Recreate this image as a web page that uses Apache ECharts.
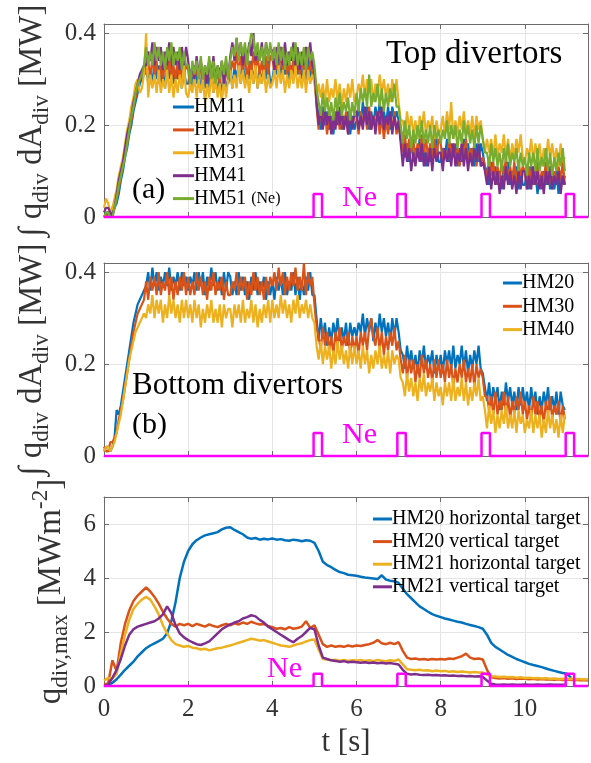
<!DOCTYPE html>
<html>
<head>
<meta charset="utf-8">
<script src="https://cdn.jsdelivr.net/npm/echarts@6/dist/echarts.min.js"></script>
<style>
  html, body { margin: 0; padding: 0; background: #fff; }
  #chart { width: 591px; height: 763px; }
</style>
</head>
<body>
<div id="chart"></div>
<script>
// sample times [s] for the integrated power traces (a) and (b), 0.05 s step
const timeFine = [
  0.00,0.05,0.10,0.15,0.20,0.25,0.30,0.35,0.40,0.45,0.50,0.55,0.60,0.65,0.70,0.75,0.80,0.85,0.90,0.95,
  1.00,1.05,1.10,1.15,1.20,1.25,1.30,1.35,1.40,1.45,1.50,1.55,1.60,1.65,1.70,1.75,1.80,1.85,1.90,1.95,
  2.00,2.05,2.10,2.15,2.20,2.25,2.30,2.35,2.40,2.45,2.50,2.55,2.60,2.65,2.70,2.75,2.80,2.85,2.90,2.95,
  3.00,3.05,3.10,3.15,3.20,3.25,3.30,3.35,3.40,3.45,3.50,3.55,3.60,3.65,3.70,3.75,3.80,3.85,3.90,3.95,
  4.00,4.05,4.10,4.15,4.20,4.25,4.30,4.35,4.40,4.45,4.50,4.55,4.60,4.65,4.70,4.75,4.80,4.85,4.90,4.95,
  5.00,5.05,5.10,5.15,5.20,5.25,5.30,5.35,5.40,5.45,5.50,5.55,5.60,5.65,5.70,5.75,5.80,5.85,5.90,5.95,
  6.00,6.05,6.10,6.15,6.20,6.25,6.30,6.35,6.40,6.45,6.50,6.55,6.60,6.65,6.70,6.75,6.80,6.85,6.90,6.95,
  7.00,7.05,7.10,7.15,7.20,7.25,7.30,7.35,7.40,7.45,7.50,7.55,7.60,7.65,7.70,7.75,7.80,7.85,7.90,7.95,
  8.00,8.05,8.10,8.15,8.20,8.25,8.30,8.35,8.40,8.45,8.50,8.55,8.60,8.65,8.70,8.75,8.80,8.85,8.90,8.95,
  9.00,9.05,9.10,9.15,9.20,9.25,9.30,9.35,9.40,9.45,9.50,9.55,9.60,9.65,9.70,9.75,9.80,9.85,9.90,9.95,
  10.00,10.05,10.10,10.15,10.20,10.25,10.30,10.35,10.40,10.45,10.50,10.55,10.60,10.65,10.70,10.75,10.80,10.85,10.90,10.95
];
// sample times [s] for the peak heat flux traces (c), 0.1 s step
const time = [
  0.0,0.1,0.2,0.3,0.4,0.5,0.6,0.7,0.8,0.9,
  1.0,1.1,1.2,1.3,1.4,1.5,1.6,1.7,1.8,1.9,
  2.0,2.1,2.2,2.3,2.4,2.5,2.6,2.7,2.8,2.9,
  3.0,3.1,3.2,3.3,3.4,3.5,3.6,3.7,3.8,3.9,
  4.0,4.1,4.2,4.3,4.4,4.5,4.6,4.7,4.8,4.9,
  5.0,5.1,5.2,5.3,5.4,5.5,5.6,5.7,5.8,5.9,
  6.0,6.1,6.2,6.3,6.4,6.5,6.6,6.7,6.8,6.9,
  7.0,7.1,7.2,7.3,7.4,7.5,7.6,7.7,7.8,7.9,
  8.0,8.1,8.2,8.3,8.4,8.5,8.6,8.7,8.8,8.9,
  9.0,9.1,9.2,9.3,9.4,9.5,9.6,9.7,9.8,9.9,
  10.0,10.1,10.2,10.3,10.4,10.5,10.6,10.7,10.8,10.9,
  11.0,11.1,11.2,11.3,11.4,11.5
];

// (a) top divertors, integrated power [MW]
const hm11 = [
  0.00,0.01,0.01,0.00,0.01,0.02,0.03,0.05,0.08,0.10,0.13,0.15,0.18,0.20,0.23,0.25,0.27,0.29,0.30,0.31,
  0.33,0.29,0.32,0.29,0.34,0.30,0.33,0.29,0.32,0.28,0.33,0.30,0.34,0.29,0.32,0.30,0.33,0.28,0.32,0.29,
  0.29,0.32,0.28,0.33,0.29,0.32,0.27,0.31,0.28,0.32,0.28,0.32,0.27,0.30,0.27,0.31,0.26,0.31,0.28,0.30,
  0.32,0.28,0.33,0.30,0.33,0.29,0.34,0.29,0.32,0.30,0.34,0.29,0.33,0.28,0.32,0.29,0.33,0.30,0.34,0.29,
  0.30,0.33,0.31,0.35,0.30,0.34,0.31,0.34,0.29,0.33,0.30,0.35,0.31,0.34,0.30,0.33,0.29,0.34,0.30,0.34,
  0.31,0.25,0.22,0.19,0.24,0.20,0.23,0.19,0.22,0.18,0.23,0.20,0.24,0.19,0.22,0.20,0.23,0.18,0.22,0.19,
  0.21,0.24,0.20,0.25,0.21,0.24,0.19,0.23,0.20,0.24,0.21,0.25,0.20,0.23,0.20,0.24,0.19,0.24,0.21,0.23,
  0.21,0.17,0.16,0.13,0.16,0.12,0.17,0.12,0.15,0.13,0.17,0.12,0.16,0.11,0.15,0.12,0.16,0.13,0.17,0.12,
  0.12,0.15,0.13,0.17,0.12,0.16,0.13,0.16,0.11,0.15,0.12,0.17,0.13,0.16,0.12,0.15,0.11,0.16,0.12,0.16,
  0.14,0.11,0.10,0.07,0.12,0.08,0.11,0.07,0.10,0.06,0.11,0.08,0.12,0.07,0.10,0.08,0.11,0.06,0.10,0.07,
  0.07,0.10,0.06,0.11,0.07,0.10,0.05,0.09,0.06,0.10,0.07,0.11,0.06,0.09,0.06,0.10,0.05,0.10,0.07,0.09
];
const hm21 = [
  0.00,0.00,0.01,0.01,0.02,0.03,0.04,0.06,0.09,0.11,0.14,0.16,0.19,0.21,0.24,0.26,0.28,0.30,0.31,0.32,
  0.31,0.34,0.30,0.35,0.31,0.34,0.29,0.33,0.30,0.34,0.31,0.35,0.30,0.33,0.30,0.34,0.29,0.34,0.31,0.33,
  0.32,0.28,0.33,0.30,0.33,0.29,0.34,0.29,0.32,0.30,0.34,0.29,0.33,0.28,0.32,0.29,0.33,0.30,0.34,0.29,
  0.31,0.34,0.32,0.36,0.31,0.35,0.32,0.35,0.30,0.34,0.31,0.36,0.32,0.35,0.31,0.34,0.30,0.35,0.31,0.35,
  0.35,0.31,0.34,0.31,0.36,0.32,0.35,0.31,0.34,0.30,0.35,0.32,0.36,0.31,0.34,0.32,0.35,0.30,0.34,0.31,
  0.31,0.24,0.19,0.24,0.20,0.23,0.18,0.22,0.19,0.23,0.20,0.24,0.19,0.22,0.19,0.23,0.18,0.23,0.20,0.22,
  0.22,0.18,0.23,0.20,0.23,0.19,0.24,0.19,0.22,0.20,0.23,0.18,0.22,0.17,0.21,0.18,0.22,0.19,0.23,0.18,
  0.20,0.17,0.14,0.18,0.13,0.17,0.14,0.17,0.12,0.16,0.13,0.18,0.14,0.17,0.13,0.16,0.12,0.17,0.13,0.17,
  0.16,0.12,0.15,0.12,0.17,0.13,0.16,0.12,0.15,0.11,0.16,0.13,0.17,0.12,0.15,0.13,0.16,0.11,0.15,0.12,
  0.13,0.11,0.08,0.13,0.09,0.12,0.07,0.11,0.08,0.12,0.09,0.13,0.08,0.11,0.08,0.12,0.07,0.12,0.09,0.11,
  0.10,0.06,0.11,0.08,0.11,0.07,0.12,0.07,0.10,0.08,0.12,0.07,0.11,0.06,0.10,0.07,0.11,0.08,0.12,0.07
];
const hm31 = [
  0.02,0.04,0.03,0.01,0.02,0.04,0.06,0.09,0.11,0.13,0.16,0.19,0.21,0.24,0.26,0.29,0.30,0.27,0.28,0.31,
  0.40,0.26,0.31,0.28,0.31,0.27,0.32,0.27,0.30,0.28,0.32,0.27,0.31,0.26,0.30,0.27,0.31,0.28,0.33,0.27,
  0.26,0.29,0.27,0.31,0.26,0.30,0.27,0.30,0.25,0.29,0.26,0.31,0.27,0.30,0.26,0.29,0.25,0.30,0.26,0.30,
  0.32,0.28,0.31,0.28,0.33,0.29,0.32,0.28,0.31,0.27,0.32,0.29,0.33,0.28,0.31,0.29,0.32,0.27,0.31,0.28,
  0.29,0.32,0.28,0.33,0.29,0.32,0.27,0.31,0.28,0.32,0.29,0.33,0.28,0.31,0.28,0.32,0.27,0.32,0.29,0.31,
  0.29,0.26,0.29,0.26,0.29,0.25,0.30,0.25,0.28,0.26,0.30,0.25,0.29,0.24,0.28,0.25,0.29,0.26,0.30,0.25,
  0.26,0.29,0.27,0.31,0.26,0.30,0.27,0.30,0.25,0.29,0.26,0.31,0.27,0.30,0.26,0.29,0.25,0.30,0.26,0.30,
  0.25,0.21,0.21,0.18,0.23,0.19,0.22,0.18,0.21,0.17,0.22,0.19,0.23,0.18,0.21,0.19,0.22,0.17,0.21,0.18,
  0.19,0.22,0.18,0.23,0.19,0.25,0.17,0.21,0.18,0.22,0.19,0.23,0.18,0.21,0.18,0.22,0.17,0.22,0.19,0.21,
  0.17,0.14,0.17,0.14,0.17,0.13,0.18,0.13,0.16,0.14,0.18,0.13,0.17,0.12,0.16,0.13,0.17,0.14,0.18,0.13,
  0.12,0.15,0.13,0.17,0.12,0.16,0.13,0.16,0.11,0.15,0.12,0.17,0.13,0.16,0.12,0.15,0.11,0.16,0.12,0.13
];
const hm41 = [
  0.01,0.02,0.02,0.01,0.00,0.02,0.05,0.08,0.10,0.12,0.15,0.18,0.20,0.22,0.25,0.27,0.29,0.31,0.32,0.33,
  0.33,0.36,0.34,0.38,0.33,0.37,0.34,0.37,0.32,0.36,0.33,0.38,0.34,0.37,0.33,0.36,0.32,0.37,0.33,0.37,
  0.34,0.30,0.33,0.30,0.35,0.31,0.34,0.30,0.33,0.29,0.34,0.31,0.35,0.30,0.33,0.31,0.34,0.29,0.33,0.30,
  0.35,0.38,0.34,0.39,0.35,0.38,0.33,0.37,0.34,0.38,0.35,0.40,0.34,0.37,0.34,0.38,0.33,0.38,0.35,0.37,
  0.36,0.32,0.37,0.34,0.37,0.33,0.38,0.33,0.36,0.34,0.38,0.33,0.37,0.32,0.36,0.33,0.37,0.34,0.38,0.33,
  0.32,0.25,0.20,0.24,0.19,0.23,0.20,0.23,0.18,0.22,0.19,0.24,0.20,0.23,0.19,0.22,0.18,0.23,0.19,0.23,
  0.23,0.19,0.22,0.19,0.24,0.20,0.23,0.19,0.22,0.18,0.23,0.20,0.24,0.19,0.22,0.20,0.23,0.18,0.22,0.19,
  0.21,0.16,0.11,0.16,0.12,0.15,0.10,0.14,0.11,0.15,0.12,0.16,0.11,0.14,0.11,0.15,0.10,0.15,0.12,0.14,
  0.14,0.10,0.15,0.12,0.15,0.11,0.16,0.11,0.14,0.12,0.16,0.11,0.15,0.10,0.14,0.11,0.15,0.12,0.16,0.11,
  0.12,0.10,0.07,0.11,0.06,0.10,0.07,0.10,0.05,0.09,0.06,0.11,0.07,0.10,0.06,0.09,0.05,0.10,0.06,0.10,
  0.10,0.06,0.09,0.06,0.11,0.07,0.10,0.06,0.09,0.05,0.10,0.07,0.11,0.06,0.09,0.07,0.10,0.05,0.09,0.07
];
const hm51 = [
  0.00,0.01,0.01,0.00,0.00,0.02,0.04,0.07,0.09,0.11,0.13,0.16,0.19,0.22,0.24,0.27,0.29,0.30,0.31,0.33,
  0.37,0.33,0.36,0.33,0.38,0.34,0.37,0.33,0.36,0.32,0.37,0.34,0.38,0.33,0.36,0.34,0.37,0.32,0.36,0.33,
  0.33,0.29,0.34,0.31,0.34,0.30,0.35,0.30,0.33,0.31,0.35,0.30,0.34,0.29,0.33,0.30,0.34,0.31,0.35,0.30,
  0.34,0.37,0.35,0.39,0.34,0.38,0.35,0.38,0.33,0.37,0.40,0.39,0.35,0.38,0.34,0.37,0.33,0.38,0.34,0.38,
  0.34,0.37,0.33,0.38,0.34,0.37,0.32,0.36,0.33,0.37,0.34,0.38,0.33,0.36,0.33,0.37,0.32,0.37,0.34,0.36,
  0.33,0.28,0.25,0.22,0.27,0.23,0.26,0.22,0.25,0.21,0.26,0.23,0.27,0.22,0.25,0.23,0.26,0.21,0.25,0.22,
  0.27,0.23,0.28,0.25,0.28,0.24,0.31,0.24,0.27,0.25,0.29,0.24,0.28,0.23,0.27,0.24,0.28,0.25,0.29,0.24,
  0.24,0.20,0.16,0.21,0.17,0.20,0.15,0.19,0.16,0.20,0.17,0.21,0.16,0.19,0.16,0.20,0.15,0.20,0.17,0.19,
  0.16,0.19,0.17,0.21,0.16,0.20,0.17,0.20,0.15,0.19,0.16,0.21,0.17,0.20,0.16,0.19,0.15,0.20,0.16,0.20,
  0.17,0.14,0.14,0.11,0.16,0.12,0.15,0.11,0.14,0.10,0.15,0.12,0.16,0.11,0.14,0.12,0.15,0.10,0.14,0.11,
  0.13,0.09,0.14,0.11,0.14,0.10,0.15,0.10,0.13,0.11,0.15,0.10,0.14,0.09,0.13,0.10,0.14,0.11,0.15,0.10
];

// (b) bottom divertors, integrated power [MW]
const hm20 = [
  0.01,0.02,0.02,0.01,0.02,0.04,0.10,0.09,0.11,0.14,0.17,0.20,0.23,0.26,0.29,0.31,0.33,0.34,0.35,0.36,
  0.37,0.40,0.36,0.41,0.37,0.40,0.36,0.39,0.37,0.40,0.37,0.41,0.36,0.39,0.37,0.40,0.36,0.40,0.37,0.39,
  0.36,0.39,0.37,0.40,0.36,0.40,0.37,0.40,0.35,0.39,0.36,0.41,0.37,0.40,0.36,0.39,0.35,0.40,0.36,0.40,
  0.39,0.35,0.38,0.35,0.40,0.36,0.39,0.35,0.38,0.34,0.39,0.36,0.40,0.35,0.38,0.36,0.39,0.34,0.38,0.35,
  0.38,0.34,0.39,0.36,0.39,0.35,0.40,0.35,0.38,0.36,0.40,0.35,0.39,0.34,0.38,0.35,0.39,0.36,0.40,0.35,
  0.35,0.30,0.25,0.30,0.26,0.29,0.24,0.28,0.25,0.29,0.26,0.30,0.25,0.28,0.25,0.29,0.24,0.29,0.26,0.28,
  0.26,0.29,0.27,0.31,0.26,0.30,0.27,0.30,0.25,0.29,0.26,0.31,0.27,0.30,0.26,0.29,0.25,0.30,0.26,0.30,
  0.27,0.23,0.22,0.19,0.24,0.20,0.23,0.19,0.22,0.18,0.23,0.20,0.24,0.19,0.22,0.20,0.23,0.18,0.22,0.19,
  0.22,0.18,0.23,0.20,0.23,0.19,0.24,0.19,0.22,0.20,0.24,0.19,0.23,0.18,0.22,0.19,0.23,0.20,0.24,0.19,
  0.18,0.15,0.12,0.16,0.11,0.15,0.12,0.15,0.10,0.14,0.11,0.16,0.12,0.15,0.11,0.14,0.10,0.15,0.11,0.15,
  0.11,0.14,0.10,0.15,0.11,0.14,0.09,0.13,0.10,0.14,0.11,0.15,0.10,0.13,0.10,0.14,0.09,0.14,0.11,0.10
];
const hm30 = [
  0.02,0.01,0.01,0.03,0.03,0.04,0.05,0.08,0.10,0.12,0.15,0.18,0.21,0.24,0.27,0.29,0.31,0.32,0.33,0.34,
  0.38,0.34,0.39,0.36,0.39,0.35,0.40,0.35,0.38,0.36,0.40,0.35,0.39,0.34,0.38,0.35,0.39,0.36,0.40,0.35,
  0.39,0.35,0.38,0.35,0.40,0.36,0.39,0.35,0.38,0.34,0.39,0.36,0.40,0.35,0.38,0.36,0.39,0.34,0.38,0.35,
  0.35,0.38,0.36,0.40,0.35,0.39,0.36,0.39,0.34,0.38,0.35,0.40,0.36,0.39,0.35,0.38,0.34,0.39,0.35,0.39,
  0.37,0.40,0.36,0.41,0.37,0.40,0.35,0.39,0.36,0.40,0.37,0.41,0.36,0.39,0.36,0.42,0.35,0.40,0.37,0.39,
  0.33,0.28,0.26,0.23,0.28,0.24,0.27,0.23,0.26,0.22,0.27,0.24,0.28,0.23,0.26,0.24,0.27,0.22,0.26,0.23,
  0.26,0.22,0.27,0.24,0.27,0.23,0.28,0.30,0.26,0.24,0.28,0.23,0.27,0.22,0.26,0.23,0.27,0.24,0.28,0.23,
  0.25,0.21,0.18,0.22,0.17,0.21,0.18,0.21,0.16,0.20,0.17,0.22,0.18,0.21,0.17,0.20,0.16,0.21,0.17,0.21,
  0.17,0.20,0.16,0.21,0.17,0.20,0.15,0.19,0.16,0.20,0.17,0.21,0.16,0.19,0.16,0.20,0.15,0.20,0.17,0.19,
  0.17,0.13,0.13,0.10,0.13,0.09,0.14,0.09,0.12,0.10,0.14,0.09,0.13,0.08,0.12,0.09,0.13,0.10,0.14,0.09,
  0.12,0.08,0.11,0.08,0.13,0.09,0.12,0.08,0.11,0.07,0.12,0.09,0.13,0.08,0.11,0.09,0.12,0.07,0.11,0.08
];
const hm40 = [
  0.01,0.02,0.02,0.01,0.02,0.03,0.05,0.07,0.09,0.12,0.15,0.18,0.21,0.23,0.25,0.27,0.28,0.29,0.30,0.31,
  0.30,0.33,0.31,0.35,0.30,0.34,0.31,0.34,0.29,0.33,0.30,0.35,0.31,0.34,0.30,0.33,0.29,0.34,0.30,0.34,
  0.30,0.33,0.29,0.34,0.30,0.33,0.28,0.32,0.29,0.33,0.30,0.34,0.29,0.32,0.29,0.33,0.28,0.33,0.30,0.32,
  0.32,0.28,0.33,0.30,0.33,0.29,0.34,0.29,0.32,0.30,0.34,0.29,0.33,0.28,0.32,0.29,0.33,0.30,0.34,0.29,
  0.34,0.30,0.33,0.30,0.35,0.31,0.34,0.30,0.33,0.29,0.34,0.31,0.35,0.30,0.33,0.31,0.34,0.30,0.33,0.30,
  0.29,0.24,0.21,0.25,0.20,0.24,0.21,0.24,0.19,0.23,0.20,0.25,0.21,0.24,0.20,0.23,0.19,0.24,0.20,0.24,
  0.20,0.23,0.19,0.24,0.20,0.23,0.18,0.22,0.19,0.23,0.20,0.24,0.19,0.22,0.19,0.23,0.18,0.23,0.20,0.22,
  0.21,0.17,0.16,0.13,0.18,0.14,0.17,0.13,0.16,0.12,0.17,0.14,0.18,0.13,0.16,0.14,0.17,0.12,0.16,0.13,
  0.15,0.11,0.16,0.13,0.16,0.12,0.17,0.12,0.15,0.13,0.17,0.12,0.16,0.11,0.15,0.12,0.16,0.13,0.17,0.12,
  0.13,0.10,0.06,0.11,0.07,0.10,0.05,0.09,0.06,0.10,0.07,0.11,0.06,0.09,0.06,0.10,0.05,0.10,0.07,0.09,
  0.05,0.08,0.06,0.10,0.05,0.09,0.06,0.09,0.04,0.08,0.05,0.10,0.06,0.09,0.05,0.08,0.04,0.09,0.05,0.09
];

// (c) peak heat flux [MW m^-2]
const hm20Horiz = [
  0.00,0.02,0.12,0.25,0.42,0.60,0.75,0.90,1.10,1.25,
  1.40,1.50,1.58,1.66,1.75,1.95,2.40,3.10,4.00,4.60,
  5.00,5.25,5.40,5.50,5.58,5.62,5.66,5.70,5.80,5.86,
  5.88,5.78,5.70,5.62,5.50,5.45,5.48,5.42,5.45,5.43,
  5.46,5.42,5.44,5.40,5.38,5.42,5.40,5.36,5.40,5.38,
  5.30,5.00,4.60,4.48,4.40,4.30,4.22,4.18,4.12,4.10,
  4.08,4.05,4.02,4.00,3.98,3.96,4.10,3.94,3.90,3.88,
  3.82,3.60,3.40,3.25,3.10,2.95,2.85,2.75,2.66,2.60,
  2.55,2.50,2.46,2.42,2.38,2.35,2.30,2.26,2.22,2.18,
  2.12,1.90,1.60,1.45,1.35,1.25,1.15,1.08,1.00,0.94,
  0.88,0.82,0.78,0.74,0.70,0.65,0.60,0.56,0.52,0.48,
  0.45,0.30
];
const hm20Vert = [
  0.05,0.10,0.95,0.55,1.60,2.30,2.80,3.15,3.35,3.50,
  3.65,3.50,3.30,3.05,2.75,2.50,2.30,2.20,2.30,2.25,
  2.30,2.22,2.30,2.25,2.20,2.28,2.22,2.18,2.25,2.30,
  2.25,2.32,2.28,2.35,2.30,2.38,2.32,2.28,2.30,2.22,
  2.18,2.12,2.15,2.10,2.18,2.12,2.15,2.20,2.40,2.15,
  2.25,1.90,1.55,1.45,1.50,1.45,1.48,1.45,1.50,1.46,
  1.50,1.48,1.52,1.55,1.60,1.70,1.58,1.55,1.60,1.55,
  1.62,1.30,1.05,1.00,1.02,0.98,1.00,0.97,1.00,0.98,
  1.00,0.98,1.02,1.00,1.05,1.10,1.20,1.05,1.00,1.02,
  0.98,0.60,0.32,0.30,0.28,0.30,0.27,0.29,0.26,0.28,
  0.27,0.25,0.27,0.24,0.26,0.24,0.25,0.23,0.25,0.22,
  0.24,0.22,0.23,0.21,0.22,0.20
];
const hm21Horiz = [
  0.20,0.30,0.28,0.45,1.20,1.90,2.45,2.85,3.05,3.20,
  3.30,3.20,2.95,2.65,2.25,1.95,1.70,1.55,1.50,1.45,
  1.48,1.42,1.40,1.35,1.38,1.32,1.36,1.40,1.42,1.46,
  1.50,1.55,1.60,1.65,1.70,1.75,1.72,1.68,1.70,1.65,
  1.60,1.55,1.50,1.48,1.45,1.50,1.55,1.58,1.65,1.70,
  1.72,1.35,1.00,0.98,0.95,0.97,0.94,0.96,0.93,0.95,
  0.94,0.96,0.93,0.95,0.92,0.96,0.94,0.92,0.95,0.93,
  0.98,0.80,0.62,0.60,0.58,0.60,0.57,0.58,0.55,0.57,
  0.55,0.56,0.53,0.55,0.52,0.54,0.52,0.50,0.52,0.50,
  0.50,0.42,0.36,0.35,0.33,0.34,0.32,0.33,0.31,0.32,
  0.30,0.31,0.29,0.30,0.28,0.29,0.27,0.28,0.26,0.27,
  0.26,0.27,0.25,0.26,0.24,0.25
];
const hm21Vert = [
  0.00,0.05,0.30,0.60,1.00,1.50,1.90,2.10,2.20,2.25,
  2.30,2.35,2.40,2.50,2.65,2.95,2.70,2.25,1.95,1.80,
  1.70,1.62,1.55,1.52,1.58,1.65,1.80,1.95,2.10,2.20,
  2.28,2.35,2.40,2.50,2.55,2.62,2.58,2.45,2.35,2.20,
  2.10,2.00,1.90,1.80,1.70,1.62,1.75,1.85,2.00,2.15,
  2.10,1.50,1.05,1.00,0.95,0.93,0.90,0.92,0.88,0.90,
  0.88,0.86,0.88,0.85,0.87,0.84,0.86,0.83,0.85,0.82,
  0.80,0.60,0.45,0.43,0.44,0.42,0.41,0.42,0.40,0.41,
  0.39,0.40,0.38,0.39,0.37,0.38,0.36,0.37,0.35,0.36,
  0.34,0.20,0.08,0.06,0.05,0.06,0.05,0.06,0.05,0.05,
  0.06,0.05,0.05,0.06,0.05,0.05,0.06,0.05,0.05,0.05,
  0.05
];

// Ne puff timing [s] and the height the marker is drawn at in each panel
const nePuffStart = [4.98, 6.97, 8.97, 10.97];
const nePuffLength = 0.2;
const neLevel = [0.05, 0.05, 0.45];

const colors = ['#0072BD', '#D95319', '#EDB120', '#7E2F8E', '#77AC30'];
const magenta = '#FF00FF';
const serif = "'Liberation Serif', 'Times New Roman', serif";

const toPoints = (t, vals) => vals.map((v, i) => [t[i], v]);

const nePulse = (h) => {
  const pts = [[0, 0]];
  nePuffStart.forEach(t => {
    pts.push([t, 0], [t, h], [t + nePuffLength, h], [t + nePuffLength, 0]);
  });
  pts.push([11.5, 0]);
  return pts;
};

const grids = [
  { left: 104, top: 24, width: 484, height: 193 },
  { left: 104, top: 263, width: 484, height: 193 },
  { left: 104, top: 497, width: 484, height: 189 }
];

const frameColor = '#6b6b6b';
const gridColor = '#e4e4e4';
const tickFont = { fontSize: 25, fontFamily: serif, color: '#333' };

let xAxes = [];
let yAxes = [];
const yRanges = [
  { max: 0.42, interval: 0.2 },
  { max: 0.42, interval: 0.2 },
  { max: 7, interval: 2 }
];
const nameRich = {
  s: { fontSize: 23, fontFamily: serif, color: '#333', padding: [20, 0, 0, 0] },
  p: { fontSize: 23, fontFamily: serif, color: '#333', padding: [0, 0, 20, 0] }
};

grids.forEach((g, i) => {
  xAxes.push({
    type: 'value', gridIndex: i, min: 0, max: 11.5, interval: 2,
    axisLine: { show: true, onZero: false, lineStyle: { color: frameColor } },
    axisTick: { inside: true, length: 5, lineStyle: { color: frameColor } },
    axisLabel: Object.assign({ show: i === 2, margin: 11, showMaxLabel: false }, tickFont),
    splitLine: { show: true, lineStyle: { color: gridColor } },
    name: i === 2 ? 't [s]' : '',
    nameLocation: 'middle', nameGap: 41,
    nameTextStyle: { fontSize: 31, fontFamily: serif, color: '#333' }
  });
  xAxes.push({
    type: 'value', gridIndex: i, position: 'top', min: 0, max: 11.5, interval: 2,
    axisLine: { show: true, onZero: false, lineStyle: { color: frameColor } },
    axisTick: { inside: true, length: 5, lineStyle: { color: frameColor } },
    axisLabel: { show: false }, splitLine: { show: false }
  });
  const r = yRanges[i];
  yAxes.push({
    type: 'value', gridIndex: i, min: 0, max: r.max, interval: r.interval,
    axisLine: { show: true, onZero: false, lineStyle: { color: frameColor } },
    axisTick: { inside: true, length: 5, lineStyle: { color: frameColor } },
    axisLabel: Object.assign({ margin: 8, showMaxLabel: false }, tickFont),
    splitLine: { show: true, lineStyle: { color: gridColor } },
    name: i === 2 ? 'q{s|div,max} [MWm{p|-2}]' : '∫ q{s|div} dA{s|div} [MW]',
    nameLocation: 'middle', nameRotate: 90,
    nameGap: i === 2 ? 24 : 38,
    nameTextStyle: { fontSize: 33, fontFamily: serif, color: '#333', rich: nameRich }
  });
  yAxes.push({
    type: 'value', gridIndex: i, position: 'right', min: 0, max: r.max, interval: r.interval,
    axisLine: { show: true, onZero: false, lineStyle: { color: frameColor } },
    axisTick: { inside: true, length: 5, lineStyle: { color: frameColor } },
    axisLabel: { show: false }, splitLine: { show: false }
  });
});

const line = (name, t, vals, color, panel, width) => ({
  name: name, type: 'line', data: toPoints(t, vals),
  xAxisIndex: panel * 2, yAxisIndex: panel * 2,
  symbol: 'none', color: color,
  lineStyle: { width: width, color: color },
  emphasis: { disabled: true }
});

const neLine = (panel) => ({
  name: 'Ne' + panel, type: 'line', data: nePulse(neLevel[panel]),
  xAxisIndex: panel * 2, yAxisIndex: panel * 2, clip: false, z: 5,
  symbol: 'none', lineStyle: { width: 2.5, color: magenta },
  emphasis: { disabled: true }
});

const series = [
  line('HM11', timeFine, hm11, colors[0], 0, 2.2),
  line('HM21', timeFine, hm21, colors[1], 0, 2.2),
  line('HM31', timeFine, hm31, colors[2], 0, 2.2),
  line('HM41', timeFine, hm41, colors[3], 0, 2.2),
  line('HM51 (Ne)', timeFine, hm51, colors[4], 0, 2.2),
  neLine(0),
  line('HM20', timeFine, hm20, colors[0], 1, 2.2),
  line('HM30', timeFine, hm30, colors[1], 1, 2.2),
  line('HM40', timeFine, hm40, colors[2], 1, 2.2),
  neLine(1),
  line('HM20 horizontal target', time, hm20Horiz, colors[0], 2, 2.5),
  line('HM20 vertical target', time, hm20Vert, colors[1], 2, 2.5),
  line('HM21 horizontal target', time, hm21Horiz, colors[2], 2, 2.5),
  line('HM21 vertical target', time, hm21Vert, colors[3], 2, 2.5),
  neLine(2)
];

const legendBase = {
  orient: 'vertical', padding: 0, icon: 'rect', itemHeight: 3, selectedMode: false,
  textStyle: { fontSize: 20, lineHeight: 20, fontFamily: serif, color: '#000', padding: [0, 0, 0, -5],
    rich: { s: { fontSize: 16, fontFamily: serif, color: '#000' } } }
};

const legends = [
  Object.assign({}, legendBase, {
    left: 173, top: 97, itemWidth: 21, itemGap: 2.9,
    data: ['HM11', 'HM21', 'HM31', 'HM41', 'HM51 (Ne)'],
    formatter: (n) => n === 'HM51 (Ne)' ? 'HM51 {s|(Ne)}' : n
  }),
  Object.assign({}, legendBase, {
    left: 503, top: 273, itemWidth: 19, itemGap: 3.3,
    data: ['HM20', 'HM30', 'HM40']
  }),
  Object.assign({}, legendBase, {
    left: 373, top: 509, itemWidth: 19, itemGap: 2.6,
    data: ['HM20 horizontal target', 'HM20 vertical target', 'HM21 horizontal target', 'HM21 vertical target']
  })
];

const label = (text, x, y, size, fill) => ({
  type: 'text', x: x, y: y, z: 10,
  style: { text: text, font: size + 'px ' + serif, fill: fill || '#000', textVerticalAlign: 'middle' }
});

const option = {
  animation: false,
  grid: grids,
  xAxis: xAxes,
  yAxis: yAxes,
  legend: legends,
  series: series,
  graphic: [
    label('Top divertors', 386, 54, 33),
    label('(a)', 132, 190, 30),
    label('Ne', 342, 198, 30, magenta),
    label('Bottom divertors', 132, 386, 31),
    label('(b)', 132, 425, 30),
    label('Ne', 342, 435, 30, magenta),
    label('Ne', 267, 669, 30, magenta)
  ]
};

const myChart = echarts.init(document.getElementById('chart'));
myChart.setOption(option);
</script>
</body>
</html>
